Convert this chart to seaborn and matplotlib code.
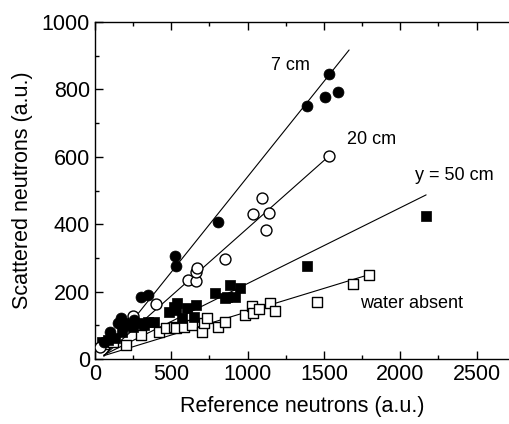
import numpy as np
import pandas as pd
import seaborn as sns
import matplotlib.pyplot as plt
from matplotlib.ticker import MultipleLocator

# 7 cm (filled circles)
x_7cm = [60, 103, 153, 170, 185, 230, 260, 300, 351, 526, 535, 806, 1388, 1509, 1531, 1591]
y_7cm = [50, 81, 106, 121, 95, 100, 115, 183, 190, 305, 276, 407, 751, 777, 845, 791]

# 20 cm (open circles)
x_20cm = [34, 250, 401, 612, 660, 664, 670, 854, 1037, 1096, 1123, 1141, 1533]
y_20cm = [35, 128, 163, 234, 232, 257, 269, 297, 429, 479, 382, 434, 602]

# 50 cm (filled squares)
x_50cm = [45, 90, 131, 180, 217, 250, 282, 320, 347, 390, 487, 519, 530, 541, 573,
          606, 649, 660, 789, 855, 865, 886, 918, 951, 1388, 2169]
y_50cm = [51, 55, 61, 80, 106, 95, 106, 100, 111, 111, 140, 155, 145, 165, 121,
          150, 125, 160, 195, 181, 185, 220, 185, 210, 276, 425]

# water absent (open squares)
x_water = [60, 120, 207, 300, 422, 466, 519, 530, 584, 638, 702, 713, 735, 810, 854,
           983, 1030, 1037, 1076, 1145, 1181, 1453, 1688, 1798]
y_water = [45, 50, 42, 70, 81, 91, 96, 91, 96, 101, 81, 106, 121, 96, 111,
           131, 157, 136, 147, 165, 143, 170, 223, 249]

# fitted lines (start / end)
fit_x = {"7cm": [60, 1665], "20cm": [60, 1533], "50cm": [60, 2169], "water": [60, 1800]}
fit_y = {"7cm": [8, 917], "20cm": [10, 602], "50cm": [12, 487], "water": [10, 251]}

sns.set_style("ticks")
plt.rcParams["font.family"] = ["Liberation Sans", "DejaVu Sans"]
plt.rcParams["text.color"] = "black"
plt.rcParams["axes.labelcolor"] = "black"
plt.rcParams["axes.edgecolor"] = "black"
plt.rcParams["xtick.color"] = "black"
plt.rcParams["ytick.color"] = "black"

fig = plt.figure(figsize=(5.1, 4.24), dpi=100)
ax = fig.add_axes([0.1857, 0.1533, 0.8143, 0.7948])

for k in fit_x:
    sns.lineplot(x=fit_x[k], y=fit_y[k], ax=ax, color="black", linewidth=0.8)

ms = 52
sns.scatterplot(x=x_water, y=y_water, ax=ax, marker="s", s=ms, facecolor="white",
                edgecolor="black", linewidth=1.0, zorder=3)
sns.scatterplot(x=x_50cm, y=y_50cm, ax=ax, marker="s", s=ms, color="black",
                edgecolor="black", linewidth=0.5, zorder=4)
sns.scatterplot(x=x_20cm, y=y_20cm, ax=ax, marker="o", s=ms + 10, facecolor="white",
                edgecolor="black", linewidth=1.0, zorder=5)
sns.scatterplot(x=x_7cm, y=y_7cm, ax=ax, marker="o", s=ms + 10, color="black",
                edgecolor="black", linewidth=0.5, zorder=6)

ax.text(1151, 871, "7 cm", fontsize=13, va="center")
ax.text(1652, 650, "20 cm", fontsize=13, va="center")
ax.text(2093, 546, "y = 50 cm", fontsize=13, va="center")
ax.text(1738, 165, "water absent", fontsize=13, va="center")

ax.set_xlim(0, 2718)
ax.set_ylim(0, 1000)
ax.xaxis.set_major_locator(MultipleLocator(500))
ax.xaxis.set_minor_locator(MultipleLocator(250))
ax.yaxis.set_major_locator(MultipleLocator(200))
ax.yaxis.set_minor_locator(MultipleLocator(100))
ax.tick_params(which="both", direction="in", top=True, right=False, labelsize=15.5, width=1)
ax.tick_params(which="major", length=6)
ax.tick_params(which="minor", length=3)
for s in ["left", "bottom", "top"]:
    ax.spines[s].set_linewidth(1.0)
    ax.spines[s].set_visible(True)
ax.spines["right"].set_visible(False)

ax.set_xlabel("Reference neutrons (a.u.)", fontsize=15.5, labelpad=8)
ax.set_ylabel("Scattered neutrons (a.u.)", fontsize=15.5, labelpad=6)

fig.savefig("out.png", dpi=100)
